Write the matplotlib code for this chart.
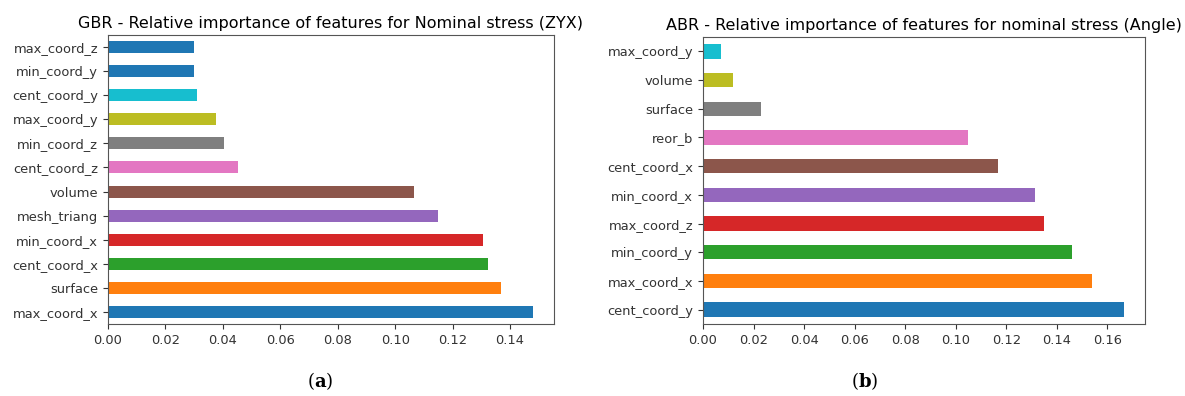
import matplotlib
matplotlib.use("Agg")
import matplotlib.pyplot as plt

# (a) GBR, listed bottom to top as drawn
gbr_features = ["max_coord_x", "surface", "cent_coord_x", "min_coord_x", "mesh_triang", "volume",
                "cent_coord_z", "min_coord_z", "max_coord_y", "cent_coord_y", "min_coord_y", "max_coord_z"]
gbr_values = [0.1479, 0.1367, 0.1323, 0.1306, 0.1148, 0.1066,
              0.0452, 0.0404, 0.0377, 0.0310, 0.0300, 0.0300]
gbr_colors = ["C0", "C1", "C2", "C3", "C4", "C5", "C6", "C7", "C8", "C9", "C0", "C0"]

# (b) ABR, bottom to top
abr_features = ["cent_coord_y", "max_coord_x", "min_coord_y", "max_coord_z", "min_coord_x",
                "cent_coord_x", "reor_b", "surface", "volume", "max_coord_y"]
abr_values = [0.1666, 0.1540, 0.1460, 0.1350, 0.1314, 0.1168, 0.1048, 0.0229, 0.0117, 0.0071]
abr_colors = ["C0", "C1", "C2", "C3", "C4", "C5", "C6", "C7", "C8", "C9"]

W, H = 1185, 396


def draw_panel(ax, names, vals, colors, title):
    pos = range(len(names))
    ax.barh(pos, vals, height=0.5, color=colors)
    ax.set_yticks(list(pos))
    ax.set_yticklabels(names)
    ax.set_ylim(-0.5, len(names) - 0.5)
    ax.set_xlim(0, max(vals) * 1.05)
    ax.set_title(title, fontsize=11.5, pad=5)
    ax.tick_params(labelsize=9.4, colors="#333333")
    for s in ax.spines.values():
        s.set_color("#555555")


fig = plt.figure(figsize=(W / 100, H / 100), dpi=100)
ax1 = fig.add_axes([108 / W, 1 - 324 / H, (554 - 108) / W, (324 - 35) / H])
ax2 = fig.add_axes([703 / W, 1 - 324 / H, (1145 - 703) / W, (324 - 37) / H])

draw_panel(ax1, gbr_features, gbr_values, gbr_colors,
           "GBR - Relative importance of features for Nominal stress (ZYX)")
draw_panel(ax2, abr_features, abr_values, abr_colors,
           "ABR - Relative importance of features for nominal stress (Angle)")
ax1.set_xticks([0, 0.02, 0.04, 0.06, 0.08, 0.10, 0.12, 0.14])
ax1.set_xticklabels(["0.00", "0.02", "0.04", "0.06", "0.08", "0.10", "0.12", "0.14"])
ax2.set_xticks([0, 0.02, 0.04, 0.06, 0.08, 0.10, 0.12, 0.14, 0.16])
ax2.set_xticklabels(["0.00", "0.02", "0.04", "0.06", "0.08", "0.10", "0.12", "0.14", "0.16"])

fig.text(320 / W, 1 - 381 / H, r"($\mathbf{a}$)", ha="center", va="center",
         fontsize=13, family="DejaVu Serif", math_fontfamily="dejavuserif")
fig.text(865 / W, 1 - 381 / H, r"($\mathbf{b}$)", ha="center", va="center",
         fontsize=13, family="DejaVu Serif", math_fontfamily="dejavuserif")

fig.savefig("out.png", dpi=100)
